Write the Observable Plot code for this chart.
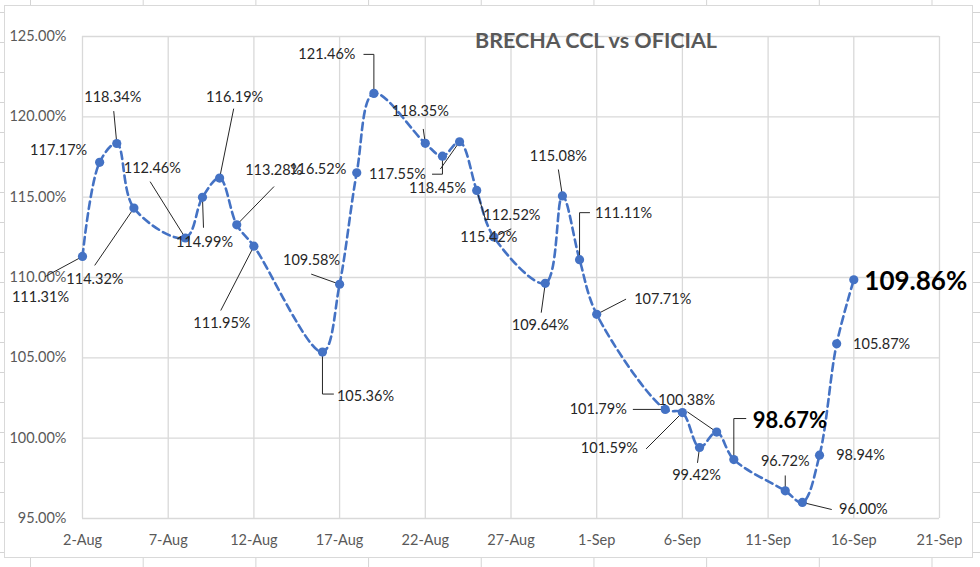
<!DOCTYPE html>
<html><head><meta charset="utf-8">
<script src="https://cdn.jsdelivr.net/npm/d3@7"></script>
<script src="https://cdn.jsdelivr.net/npm/@observablehq/plot@0.6"></script>
<style>
body{margin:0;width:980px;height:567px;overflow:hidden;position:relative;background-color:#fff;
 background-image:linear-gradient(to right,#d4d4d4 1px,transparent 1px),linear-gradient(to bottom,#d4d4d4 1px,transparent 1px);
 background-size:112.7px 30px;background-position:30px 12px;}
#frame{position:absolute;left:4px;top:5px;width:969px;height:553px;box-sizing:border-box;border:1px solid #d9d9d9;background:#fff;}
#chart{position:absolute;left:0;top:0;}
#title{position:absolute;left:446px;width:300px;top:27px;text-align:center;font-family:Lato,sans-serif;font-weight:bold;font-size:21.5px;color:#595959;}
</style></head>
<body>
<div id="frame"></div>
<div id="chart"></div>
<div id="title">BRECHA CCL vs OFICIAL</div>
<script>
// ---- data ----
const dates = ["2022-08-02","2022-08-03","2022-08-04","2022-08-05","2022-08-08","2022-08-09","2022-08-10","2022-08-11","2022-08-12",
  "2022-08-16","2022-08-17","2022-08-18","2022-08-19","2022-08-22","2022-08-23","2022-08-24","2022-08-25","2022-08-26",
  "2022-08-29","2022-08-30","2022-08-31","2022-09-01","2022-09-05","2022-09-06","2022-09-07","2022-09-08","2022-09-09",
  "2022-09-12","2022-09-13","2022-09-14","2022-09-15","2022-09-16"];
const brecha = [111.31,117.17,118.34,114.32,112.46,114.99,116.19,113.28,111.95,
  105.36,109.58,116.52,121.46,118.35,117.55,118.45,115.42,112.52,
  109.64,115.08,111.11,107.71,101.79,101.59,99.42,100.38,98.67,
  96.72,96.00,98.94,105.87,109.86];
const xTickLabels = ["2022-08-02","2022-08-07","2022-08-12","2022-08-17","2022-08-22","2022-08-27","2022-09-01","2022-09-06","2022-09-11","2022-09-16","2022-09-21"];
const yTickValues = [95,100,105,110,115,120,125];
const highlighted = ["2022-09-09","2022-09-16"];

// ---- label layout (pixel offsets from each point: label centre, leader end, leader kind 0 none/1 straight/2 elbow) ----
const labelLayout = [
  [-42,41,-37,20,1],[-41,-12,0,0,0],[-4,-46,-3,-32,1],[-39,71,-39,57,1],[-33,-70,-35,-56,1],[2,45,1,30,1],[15,-81,14,-69,1],[37,-54,37,-38,1],[-32,77,-33,64,1],
  [43,44,11,42,2],[-28,-24,-28,-10,1],[-39,-3,0,0,0],[-47,-39,-10,-39,2],[-5,-32,-2,-14,1],[-45,18,-10,18,2],[-22,47,-19,27,1],[12,47,9,30,1],[18,-22,17,-8,1],
  [-5,42,-4,29,1],[-4,-40,-4,-26,1],[44,-46,10,-47,2],[66,-15,29,-15,1],[-67,0,-32,0,1],[-73,36,-36,36,1],[-3,28,-2,15,1],[-30,-32,-29,-20,1],[56,-39,12,-41,2],
  [0,-30,0,-15,1],[61,7,29,7,1],[41,0,0,0,0],[45,1,0,0,0],[62,2,0,0,0]
];

const W = 980, H = 567, mL = 82, mR = 41, mT = 36, mB = 49;
const parse = s => new Date(s + "T00:00:00Z");
const data = dates.map((d, i) => ({date: parse(d), value: brecha[i], key: d}));
const xDomain = [parse(xTickLabels[0]), parse(xTickLabels[xTickLabels.length - 1])];
const nDays = (xDomain[1] - xDomain[0]) / 864e5;
const pxDay = (W - mL - mR) / nDays, pxPct = (H - mT - mB) / (yTickValues[yTickValues.length-1] - yTickValues[0]);
const shift = (d, dx, dy) => ({date: new Date(d.date.getTime() + dx / pxDay * 864e5), value: d.value - dy / pxPct});

const labels = data.map((d, i) => {
  const [dx, dy] = labelLayout[i];
  const p = shift(d, dx, dy);
  const hi = highlighted.includes(d.key);
  return {...p, text: d.value.toFixed(2) + "%", hi, size: d.key === "2022-09-16" ? 26 : 22};
});
const leaders = [];
data.forEach((d, i) => {
  const [, , ex, ey, kind] = labelLayout[i];
  if (kind === 0) return;
  leaders.push({...d, id: i});
  if (kind === 2) leaders.push({...shift(d, 0, ey), id: i});
  leaders.push({...shift(d, ex, ey), id: i});
});

const blue = "#4472C4";
const chart = Plot.plot({
  width: W, height: H,
  marginLeft: mL, marginRight: mR, marginTop: mT, marginBottom: mB,
  style: {fontFamily: "Lato, sans-serif", fontSize: "14.5px", color: "#595959", background: "transparent", overflow: "visible"},
  x: {type: "utc", domain: xDomain, ticks: xTickLabels.map(parse), tickFormat: d3.utcFormat("%-d-%b"), tickSize: 0, tickPadding: 16, label: null},
  y: {domain: [yTickValues[0], yTickValues[yTickValues.length-1]], ticks: yTickValues, tickFormat: d => d.toFixed(2) + "%", tickSize: 0, tickPadding: 16, label: null},
  marks: [
    Plot.ruleX(xTickLabels.map(parse), {stroke: "#d9d9d9", strokeWidth: 1.3}),
    Plot.ruleY(yTickValues, {stroke: "#d9d9d9", strokeWidth: 1.3}),
    Plot.line(data, {x: "date", y: "value", stroke: blue, strokeWidth: 2.6, strokeDasharray: "7.5,4.5", curve: "catmull-rom"}),
    Plot.line(leaders, {x: "date", y: "value", z: "id", stroke: "#262626", strokeWidth: 1}),
    Plot.dot(data, {x: "date", y: "value", r: 4.6, fill: blue, stroke: "none"}),
    Plot.text(labels.filter(d => !d.hi), {x: "date", y: "value", text: "text", fill: "#262626", fontSize: 14.5, textAnchor: "middle", lineAnchor: "middle"}),
    Plot.text(labels.filter(d => d.hi), {x: "date", y: "value", text: "text", fill: "#000", fontSize: "size", fontWeight: "bold", textAnchor: "middle", lineAnchor: "middle"})
  ]
});
document.getElementById("chart").appendChild(chart);
</script>
</body></html>
